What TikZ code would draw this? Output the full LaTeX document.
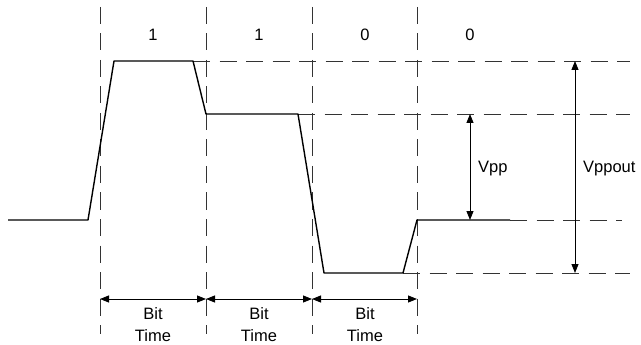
\documentclass[tikz,border=0pt]{standalone}
\usepackage{fontspec}
\setmainfont{Liberation Sans}
\usetikzlibrary{arrows.meta}
\begin{document}
\begin{tikzpicture}[x=1pt,y=-1pt,
  guide/.style={line width=0.8pt, black!80, dash pattern=on 17pt off 9.5pt},
  wave/.style={line width=1.4pt, line join=round},
  dim/.style={line width=0.9pt, {Triangle[length=9pt,width=7pt]}-{Triangle[length=9pt,width=7pt]}},
  lbl/.style={font=\fontsize{16.5}{19}\selectfont, inner sep=0pt, anchor=base},
  bt/.style={font=\fontsize{16.5}{22}\selectfont, align=center, inner sep=0pt, anchor=north}]
\useasboundingbox (0,0) rectangle (641,345);
% vertical guides
\foreach \x/\n in {100/a,206/b,312/c,417/d}{
  \coordinate (t\n) at (\x,7);
  \coordinate (b\n) at (\x,334);
  \coordinate (m\n) at (\x,299);
  \draw[guide] (t\n) -- (b\n);
}
% waveform points
\coordinate (w0) at (8,220);
\coordinate (w1) at (88,220);
\coordinate (w2) at (114,61);
\coordinate (w3) at (193,61);
\coordinate (w4) at (206,114);
\coordinate (w5) at (298,114);
\coordinate (w6) at (324,273);
\coordinate (w7) at (403,273);
\coordinate (w8) at (417,220);
\coordinate (w9) at (510,220);
% horizontal guide ends
\coordinate (h1) at (630,61);
\coordinate (h2) at (630,114);
\coordinate (h3) at (622,220);
\coordinate (h4) at (630,273);
\draw[guide] (w3) -- (h1);
\draw[guide] (w5) -- (h2);
\draw[guide] (w9) -- (h3);
\draw[guide] (w7) -- (h4);
\draw[wave] (w0) -- (w1) -- (w2) -- (w3) -- (w4) -- (w5) -- (w6) -- (w7) -- (w8) -- (w9);
% Vpp arrows
\coordinate (vpt) at (470,114);
\coordinate (vpb) at (470,220);
\coordinate (vot) at (575,61);
\coordinate (vob) at (575,273);
\draw[dim] (vpt) -- (vpb);
\draw[dim] (vot) -- (vob);
\node[lbl, anchor=base west] (vpp) at (478,172) {Vpp};
\node[lbl, anchor=base west] (vppout) at (583,172) {Vppout};
% bit labels
\node[lbl] (l1) at (153,41) {1};
\node[lbl] (l2) at (259,41) {1};
\node[lbl] (l3) at (365,41) {0};
\node[lbl] (l4) at (470,41) {0};
% bit time
\draw[dim] (ma) -- (mb);
\draw[dim] (mb) -- (mc);
\draw[dim] (mc) -- (md);
\node[bt] (bt1) at (153,307) {Bit\\Time};
\node[bt] (bt2) at (259,307) {Bit\\Time};
\node[bt] (bt3) at (365,307) {Bit\\Time};
\end{tikzpicture}
\end{document}
